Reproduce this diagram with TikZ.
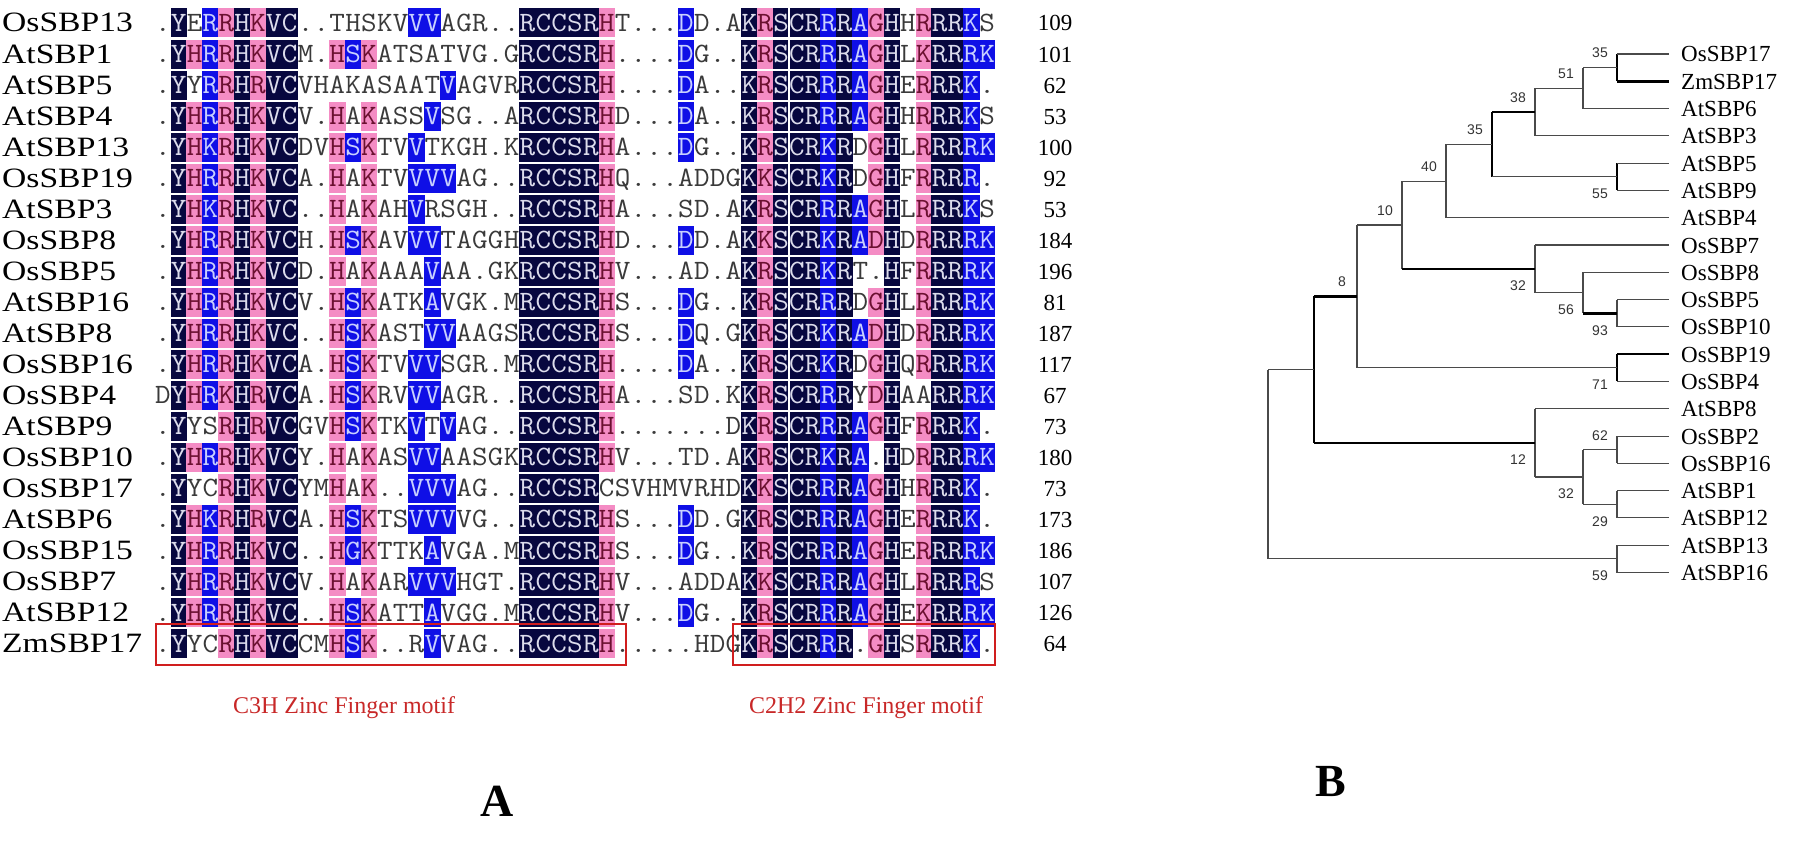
\documentclass[tikz,border=0pt]{standalone}
\usepackage{fontspec}
\usepackage{xstring}
\setmainfont{Liberation Serif}
\newfontfamily\seqfont[FakeStretch=1.08]{Latin Modern Mono}
\newfontfamily\rowfont[FakeStretch=1.2]{Liberation Serif}
\newfontfamily\bsfont{Liberation Sans}
\definecolor{bgn}{HTML}{07073F}
\definecolor{bgb}{HTML}{0F0FE6}
\definecolor{bgp}{HTML}{F48CC4}
\definecolor{fgn}{HTML}{DCDCEC}
\definecolor{fgb}{HTML}{C8D0FF}
\definecolor{fgp}{HTML}{6B1030}
\definecolor{fgw}{HTML}{3A3A3A}
\definecolor{boxred}{HTML}{D01E1E}
\definecolor{motifred}{HTML}{C82828}
\definecolor{treegray}{HTML}{4A4A4A}
\tikzset{
  seqchar/.style={inner sep=0pt, anchor=base, font=\seqfont\fontsize{28}{30}\selectfont},
  rowlab/.style={inner sep=0pt, anchor=base west, font=\rowfont\fontsize{28}{30}\selectfont, text=black},
  numlab/.style={inner sep=0pt, anchor=base, font=\fontsize{23}{25}\selectfont, text=black},
  leaflab/.style={inner sep=0pt, anchor=base west, font=\fontsize{23}{25}\selectfont, text=black},
  bslab/.style={inner sep=0pt, anchor=center, font=\bsfont\fontsize{14}{16}\selectfont, text=black!80},
  redbox/.style={draw=boxred, line width=2pt, inner sep=0pt},
  motiflab/.style={inner sep=0pt, anchor=center, font=\fontsize{24}{26}\selectfont, text=motifred},
  panellab/.style={inner sep=0pt, anchor=center, font=\bfseries\fontsize{46}{48}\selectfont, text=black},
  thn/.style={draw=treegray, line width=1.1pt},
  thk/.style={draw=black, line width=2.6pt},
}
\newcommand\alnrow[5]{%
  \StrDel{#5}{|}[\colstr]%
  \def\seqstr{#4}%
  \pgfmathsetmacro\ry{23+(#1-1)*31.03}%
  \node[rowlab] (lab#1) at (2,\ry+9) {#2};
  \node[numlab] (num#1) at (1055,\ry+8) {#3};
  \foreach \k in {1,...,53}{%
    \StrChar{\colstr}{\k}[\cc]%
    \StrChar{\seqstr}{\k}[\ch]%
    \pgfmathsetmacro\cx{155+(\k-1)*15.85}%
    \if w\cc\else\fill[bg\cc] (\cx-0.3,\ry-14.5) rectangle (\cx+16.15,\ry+14.5);\fi
    \node[seqchar,text=fg\cc] (s#1-\k) at (\cx+7.9,\ry+8.5) {\ch};
  }%
}
\newcommand\clade[6]{%
  \draw[#4] (#2 -| #1) -- (#3 -| #1);
  \draw[#5] (#2 -| #1) -- (#2);
  \draw[#6] (#3 -| #1) -- (#3);
}
\begin{document}
\begin{tikzpicture}[x=1pt,y=-1pt]
\useasboundingbox (0,0) rectangle (1799,851);
% ---------------- alignment ----------------
\alnrow{1}{OsSBP13}{109}{.YERRHKVC..THSKVVVAGR..RCCSRHT...DD.AKRSCRRRAGHHRRRKS}{wnwbpnpnn|wwwwwwwbbwwwww|nnnnnp|wwwwbwwwnpn|nnbnbpnwpnnbw}
\alnrow{2}{AtSBP1}{101}{.YHRRHKVCM.HSKATSATVG.GRCCSRH....DG..KRSCRRRAGHLKRRRK}{wnpbpnpnn|wwpbpwwwwwwwww|nnnnnp|wwwwbwwwnpn|nnbnbpnwpnnbb}
\alnrow{3}{AtSBP5}{62}{.YYRRHRVCVHAKASAATVAGVRRCCSRH....DA..KRSCRRRAGHERRRK.}{wnwbpnpnn|wwwwwwwwwbwwww|nnnnnp|wwwwbwwwnpn|nnbnbpnwpnnbw}
\alnrow{4}{AtSBP4}{53}{.YHRRHKVCV.HAKASSVSG..ARCCSRHD...DA..KRSCRRRAGHHRRRKS}{wnpbpnpnn|wwpwpwwwbwwwww|nnnnnp|wwwwbwwwnpn|nnbnbpnwpnnbw}
\alnrow{5}{AtSBP13}{100}{.YHKRHKVCDVHSKTVVTKGH.KRCCSRHA...DG..KRSCRKRDGHLRRRRK}{wnpbpnpnn|wwpbpwwbwwwwww|nnnnnp|wwwwbwwwnpn|nnbnwpnwpnnbb}
\alnrow{6}{OsSBP19}{92}{.YHRRHKVCA.HAKTVVVVAG..RCCSRHQ...ADDGKKSCRKRDGHFRRRR.}{wnpbpnpnn|wwpwpwwbbbwwww|nnnnnp|wwwwwwwwnpn|nnbnwpnwpnnbw}
\alnrow{7}{AtSBP3}{53}{.YHKRHKVC..HAKAHVRSGH..RCCSRHA...SD.AKRSCRRRAGHLRRRKS}{wnpbpnpnn|wwpwpwwbwwwwww|nnnnnp|wwwwwwwwnpn|nnbnbpnwpnnbw}
\alnrow{8}{OsSBP8}{184}{.YHRRHKVCH.HSKAVVVTAGGHRCCSRHD...DD.AKKSCRKRADHDRRRRK}{wnpbpnpnn|wwpbpwwbbwwwww|nnnnnp|wwwwbwwwnpn|nnbnbpnwpnnbb}
\alnrow{9}{OsSBP5}{196}{.YHRRHKVCD.HAKAAAVAA.GKRCCSRHV...AD.AKRSCRKRT.HFRRRRK}{wnpbpnpnn|wwpwpwwwbwwwww|nnnnnp|wwwwwwwwnpn|nnbnwwnwpnnbb}
\alnrow{10}{AtSBP16}{81}{.YHRRHKVCV.HSKATKAVGK.MRCCSRHS...DG..KRSCRRRDGHLRRRRK}{wnpbpnpnn|wwpbpwwwbwwwww|nnnnnp|wwwwbwwwnpn|nnbnwpnwpnnbb}
\alnrow{11}{AtSBP8}{187}{.YHRRHKVC..HSKASTVVAAGSRCCSRHS...DQ.GKRSCRKRADHDRRRRK}{wnpbpnpnn|wwpbpwwwbbwwww|nnnnnp|wwwwbwwwnpn|nnbnbpnwpnnbb}
\alnrow{12}{OsSBP16}{117}{.YHRRHKVCA.HSKTVVVSGR.MRCCSRH....DA..KRSCRKRDGHQRRRRK}{wnpbpnpnn|wwpbpwwbbwwwww|nnnnnp|wwwwbwwwnpn|nnbnwpnwpnnbb}
\alnrow{13}{OsSBP4}{67}{DYHRKHRVCA.HSKRVVVAGR..RCCSRHA...SD.KKRSCRRRYDHAARRRK}{wnpbpnpnn|wwpbpwwbbwwwww|nnnnnp|wwwwwwwwnpn|nnbnwpnwwnnbb}
\alnrow{14}{AtSBP9}{73}{.YYSRHRVCGVHSKTKVTVAG..RCCSRH.......DKRSCRRRAGHFRRRK.}{wnwwpnpnn|wwpbpwwbwbwwww|nnnnnp|wwwwwwwwnpn|nnbnbpnwpnnbw}
\alnrow{15}{OsSBP10}{180}{.YHRRHKVCY.HAKASVVAASGKRCCSRHV...TD.AKRSCRKRA.HDRRRRK}{wnpbpnpnn|wwpwpwwbbwwwww|nnnnnp|wwwwwwwwnpn|nnbnbwnwpnnbb}
\alnrow{16}{OsSBP17}{73}{.YYCRHKVCYMHAK..VVVAG..RCCSRCSVHMVRHDKKSCRRRAGHHRRRK.}{wnwwpnpnn|wwpwpwwbbbwwww|nnnnnw|wwwwwwwwnpn|nnbnbpnwpnnbw}
\alnrow{17}{AtSBP6}{173}{.YHKRHRVCA.HSKTSVVVVG..RCCSRHS...DD.GKRSCRRRAGHERRRK.}{wnpbpnpnn|wwpbpwwbbbwwww|nnnnnp|wwwwbwwwnpn|nnbnbpnwpnnbw}
\alnrow{18}{OsSBP15}{186}{.YHRRHKVC..HGKTTKAVGA.MRCCSRHS...DG..KRSCRRRAGHERRRRK}{wnpbpnpnn|wwpbpwwwbwwwww|nnnnnp|wwwwbwwwnpn|nnbnbpnwpnnbb}
\alnrow{19}{OsSBP7}{107}{.YHRRHKVCV.HAKARVVVHGT.RCCSRHV...ADDAKKSCRRRAGHLRRRRS}{wnpbpnpnn|wwpwpwwbbbwwww|nnnnnp|wwwwwwwwnpn|nnbnbpnwpnnbw}
\alnrow{20}{AtSBP12}{126}{.YHRRHKVC..HSKATTAVGG.MRCCSRHV...DG..KRSCRRRAGHEKRRRK}{wnpbpnpnn|wwpbpwwwbwwwww|nnnnnp|wwwwbwwwnpn|nnbnbpnwpnnbb}
\alnrow{21}{ZmSBP17}{64}{.YYCRHKVCCMHSK..RVVAG..RCCSRH.....HDGKRSCRRR.GHSRRRK.}{wnwwpnpnn|wwpbpwwwbwwwww|nnnnnp|wwwwwwwwnpn|nnbnwpnwpnnbw}
% separator between the two motif parts
\draw[white, line width=1.5pt] (789,8) -- (789,658);
% red boxes
\node[redbox, minimum width=470pt, minimum height=41pt] (box1) at (391,644) {};
\node[redbox, minimum width=262pt, minimum height=41pt] (box2) at (864,644) {};
\node[motiflab] (m1) at (344,708) {C3H Zinc Finger motif};
\node[motiflab] (m2) at (866,708) {C2H2 Zinc Finger motif};
\node[panellab] (pA) at (497,801) {A};
\node[panellab] (pB) at (1331,781) {B};
% ---------------- tree ----------------
\coordinate (e1) at (1669,54.00);   \node[leaflab] (t1) at (1681,62.00) {OsSBP17};
\coordinate (e2) at (1669,81.29);   \node[leaflab] (t2) at (1681,89.29) {ZmSBP17};
\coordinate (e3) at (1669,108.58);  \node[leaflab] (t3) at (1681,116.58) {AtSBP6};
\coordinate (e4) at (1669,135.87);  \node[leaflab] (t4) at (1681,143.87) {AtSBP3};
\coordinate (e5) at (1669,163.16);  \node[leaflab] (t5) at (1681,171.16) {AtSBP5};
\coordinate (e6) at (1669,190.45);  \node[leaflab] (t6) at (1681,198.45) {AtSBP9};
\coordinate (e7) at (1669,217.74);  \node[leaflab] (t7) at (1681,225.74) {AtSBP4};
\coordinate (e8) at (1669,245.03);  \node[leaflab] (t8) at (1681,253.03) {OsSBP7};
\coordinate (e9) at (1669,272.32);  \node[leaflab] (t9) at (1681,280.32) {OsSBP8};
\coordinate (e10) at (1669,299.61); \node[leaflab] (t10) at (1681,307.61) {OsSBP5};
\coordinate (e11) at (1669,326.90); \node[leaflab] (t11) at (1681,334.90) {OsSBP10};
\coordinate (e12) at (1669,354.19); \node[leaflab] (t12) at (1681,362.19) {OsSBP19};
\coordinate (e13) at (1669,381.48); \node[leaflab] (t13) at (1681,389.48) {OsSBP4};
\coordinate (e14) at (1669,408.77); \node[leaflab] (t14) at (1681,416.77) {AtSBP8};
\coordinate (e15) at (1669,436.06); \node[leaflab] (t15) at (1681,444.06) {OsSBP2};
\coordinate (e16) at (1669,463.35); \node[leaflab] (t16) at (1681,471.35) {OsSBP16};
\coordinate (e17) at (1669,490.64); \node[leaflab] (t17) at (1681,498.64) {AtSBP1};
\coordinate (e18) at (1669,517.93); \node[leaflab] (t18) at (1681,525.93) {AtSBP12};
\coordinate (e19) at (1669,545.22); \node[leaflab] (t19) at (1681,553.22) {AtSBP13};
\coordinate (e20) at (1669,572.51); \node[leaflab] (t20) at (1681,580.51) {AtSBP16};
% internal nodes
\coordinate (nA) at (1617,67.65);
\coordinate (nB) at (1583,88.11);
\coordinate (nC) at (1535,111.99);
\coordinate (nD) at (1617,176.81);
\coordinate (nE) at (1492,144.40);
\coordinate (nF) at (1446,181.07);
\coordinate (nG) at (1617,313.26);
\coordinate (nH) at (1583,292.79);
\coordinate (nI) at (1535,268.91);
\coordinate (nJ) at (1402,224.99);
\coordinate (nK) at (1617,367.84);
\coordinate (nL) at (1357,296.42);
\coordinate (nM) at (1617,449.71);
\coordinate (nN) at (1617,504.29);
\coordinate (nO) at (1583,477.00);
\coordinate (nP) at (1535,442.89);
\coordinate (nQ) at (1314,369.66);
\coordinate (nR) at (1617,558.87);
\coordinate (nRoot) at (1268,464.27);
% branches
\clade{nA}{e1}{e2}{thk}{thn}{thk}
\clade{nB}{nA}{e3}{thn}{thn}{thn}
\clade{nC}{nB}{e4}{thn}{thn}{thn}
\clade{nD}{e5}{e6}{thk}{thn}{thn}
\clade{nE}{nC}{nD}{thk}{thk}{thn}
\clade{nF}{nE}{e7}{thn}{thn}{thn}
\clade{nG}{e10}{e11}{thn}{thn}{thn}
\clade{nH}{e9}{nG}{thn}{thn}{thk}
\clade{nI}{e8}{nH}{thn}{thn}{thn}
\clade{nJ}{nF}{nI}{thn}{thn}{thk}
\clade{nK}{e12}{e13}{thk}{thk}{thn}
\clade{nL}{nJ}{nK}{thn}{thn}{thn}
\clade{nM}{e15}{e16}{thn}{thn}{thn}
\clade{nN}{e17}{e18}{thn}{thn}{thn}
\clade{nO}{nM}{nN}{thn}{thn}{thn}
\clade{nP}{e14}{nO}{thn}{thn}{thn}
\clade{nQ}{nL}{nP}{thk}{thk}{thk}
\clade{nR}{e19}{e20}{thn}{thn}{thn}
\clade{nRoot}{nQ}{nR}{thn}{thn}{thn}
% bootstrap values
\node[bslab] (bA) at (1600,53) {35};
\node[bslab] (bB) at (1566,74) {51};
\node[bslab] (bC) at (1518,98) {38};
\node[bslab] (bD) at (1600,194) {55};
\node[bslab] (bE) at (1475,130) {35};
\node[bslab] (bF) at (1429,167) {40};
\node[bslab] (bG) at (1600,331) {93};
\node[bslab] (bH) at (1566,310) {56};
\node[bslab] (bI) at (1518,286) {32};
\node[bslab] (bJ) at (1385,211) {10};
\node[bslab] (bK) at (1600,385) {71};
\node[bslab] (bL) at (1342,282) {8};
\node[bslab] (bM) at (1600,436) {62};
\node[bslab] (bN) at (1600,522) {29};
\node[bslab] (bO) at (1566,494) {32};
\node[bslab] (bP) at (1518,460) {12};
\node[bslab] (bR) at (1600,576) {59};
\end{tikzpicture}
\end{document}
